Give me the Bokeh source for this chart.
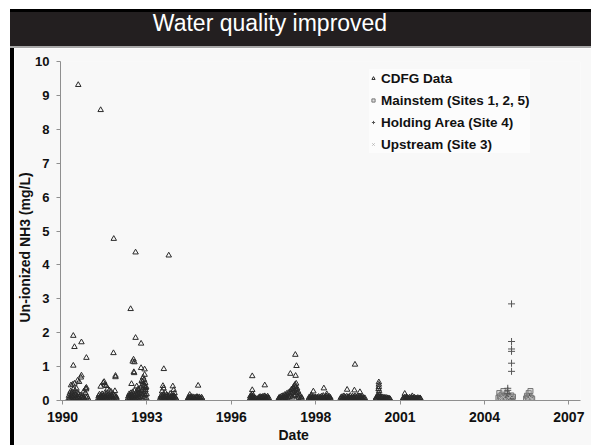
import math
from bokeh.plotting import figure
from bokeh.models import Div, FixedTicker, Legend, LegendItem, Range1d, ColumnDataSource, Title
from bokeh.layouts import column, row
from bokeh.embed import file_html
from bokeh.resources import INLINE

# ---------------- data (decimal year, un-ionized NH3 mg/L) ----------------
title_text = "Water quality improved"
y_label = "Un-ionized NH3 (mg/L)"
x_label = "Date"
series_names = ["CDFG Data", "Mainstem (Sites 1, 2, 5)", "Holding Area (Site 4)", "Upstream (Site 3)"]

x_tick_pos = [1990.25, 1993.15, 1996.05, 1998.95, 2001.85, 2004.75, 2007.65]
x_tick_labels = ["1990", "1993", "1996", "1998", "2001", "2004", "2007"]
y_ticks = [0, 1, 2, 3, 4, 5, 6, 7, 8, 9, 10]

cdfg_1990 = [(1990.46, 0.06), (1990.47, 0.14), (1990.49, 0.04), (1990.50, 0.21), (1990.52, 0.09), (1990.53, 0.27),
             (1990.55, 0.05), (1990.56, 0.17), (1990.58, 0.11), (1990.59, 0.24), (1990.61, 0.07), (1990.62, 0.33),
             (1990.64, 0.13), (1990.65, 0.04), (1990.67, 0.20), (1990.68, 0.29), (1990.70, 0.08), (1990.71, 0.16),
             (1990.73, 0.35), (1990.74, 0.05), (1990.76, 0.23), (1990.77, 0.12), (1990.79, 0.07), (1990.81, 0.18),
             (1990.83, 0.10), (1990.85, 0.04), (1990.87, 0.15), (1990.89, 0.08), (1990.92, 0.12), (1990.95, 0.05),
             (1990.98, 0.09), (1991.01, 0.04), (1991.04, 0.22), (1991.07, 0.07), (1991.10, 0.11), (1991.13, 0.05)]
cdfg_1991 = [(1991.48, 0.07), (1991.49, 0.13), (1991.51, 0.04), (1991.52, 0.18), (1991.54, 0.09), (1991.55, 0.05),
             (1991.57, 0.15), (1991.58, 0.11), (1991.60, 0.06), (1991.61, 0.19), (1991.63, 0.08), (1991.64, 0.13),
             (1991.66, 0.04), (1991.67, 0.16), (1991.69, 0.10), (1991.70, 0.21), (1991.72, 0.06), (1991.73, 0.14),
             (1991.75, 0.09), (1991.76, 0.18), (1991.78, 0.05), (1991.80, 0.12), (1991.82, 0.17), (1991.84, 0.07),
             (1991.86, 0.14), (1991.88, 0.04), (1991.90, 0.11), (1991.92, 0.16), (1991.94, 0.06), (1991.96, 0.13),
             (1991.98, 0.09), (1992.00, 0.18), (1992.02, 0.05), (1992.04, 0.12), (1992.06, 0.15), (1992.08, 0.07),
             (1992.10, 0.10), (1992.12, 0.04)]
cdfg_1992 = [(1992.50, 0.06), (1992.51, 0.12), (1992.53, 0.04), (1992.54, 0.19), (1992.56, 0.08), (1992.57, 0.14),
             (1992.59, 0.05), (1992.60, 0.22), (1992.62, 0.10), (1992.63, 0.16), (1992.65, 0.06), (1992.66, 0.25),
             (1992.68, 0.11), (1992.69, 0.18), (1992.71, 0.07), (1992.72, 0.29), (1992.74, 0.13), (1992.75, 0.05),
             (1992.77, 0.21), (1992.78, 0.09), (1992.80, 0.16), (1992.81, 0.27), (1992.83, 0.06), (1992.84, 0.19),
             (1992.86, 0.12), (1992.87, 0.31), (1992.89, 0.08), (1992.90, 0.23), (1992.92, 0.15), (1992.93, 0.38),
             (1992.95, 0.10), (1992.96, 0.28), (1992.98, 0.18), (1992.99, 0.44), (1993.01, 0.12), (1993.02, 0.33),
             (1993.04, 0.21), (1993.05, 0.48), (1993.07, 0.09), (1993.08, 0.26), (1993.10, 0.16), (1993.11, 0.37),
             (1993.13, 0.07), (1993.14, 0.19)]
cdfg_1993 = [(1993.60, 0.05), (1993.62, 0.11), (1993.63, 0.04), (1993.65, 0.15), (1993.66, 0.08), (1993.68, 0.12),
             (1993.70, 0.05), (1993.71, 0.17), (1993.73, 0.09), (1993.75, 0.13), (1993.76, 0.06), (1993.78, 0.14),
             (1993.80, 0.04), (1993.82, 0.10), (1993.84, 0.16), (1993.86, 0.07), (1993.88, 0.12), (1993.90, 0.05),
             (1993.92, 0.14), (1993.94, 0.09), (1993.96, 0.04), (1993.98, 0.11), (1994.00, 0.15), (1994.02, 0.06),
             (1994.04, 0.12), (1994.06, 0.08), (1994.08, 0.14), (1994.10, 0.05), (1994.12, 0.10), (1994.14, 0.06),
             (1994.16, 0.04)]
cdfg_1994 = [(1994.55, 0.04), (1994.57, 0.08), (1994.59, 0.05), (1994.61, 0.10), (1994.63, 0.06), (1994.65, 0.09),
             (1994.67, 0.04), (1994.69, 0.11), (1994.71, 0.07), (1994.73, 0.05), (1994.75, 0.10), (1994.77, 0.06),
             (1994.79, 0.08), (1994.81, 0.04), (1994.83, 0.09), (1994.85, 0.06), (1994.87, 0.11), (1994.89, 0.05),
             (1994.91, 0.08), (1994.93, 0.04), (1994.95, 0.10), (1994.97, 0.06), (1994.99, 0.07), (1995.01, 0.04),
             (1995.03, 0.09), (1995.05, 0.05)]
cdfg_1996 = [(1996.69, 0.05), (1996.70, 0.12), (1996.72, 0.07), (1996.73, 0.15), (1996.75, 0.04), (1996.76, 0.10),
             (1996.78, 0.06), (1996.79, 0.13), (1996.81, 0.05), (1996.83, 0.09), (1996.85, 0.04), (1996.88, 0.07),
             (1996.92, 0.04), (1996.97, 0.06), (1997.00, 0.09), (1997.02, 0.05), (1997.04, 0.11), (1997.06, 0.07),
             (1997.08, 0.04), (1997.10, 0.10), (1997.12, 0.06), (1997.14, 0.12), (1997.16, 0.05), (1997.18, 0.09),
             (1997.20, 0.13), (1997.22, 0.06), (1997.24, 0.10), (1997.26, 0.04), (1997.28, 0.08), (1997.30, 0.12),
             (1997.32, 0.05), (1997.34, 0.07)]
cdfg_1997 = [(1997.67, 0.04), (1997.69, 0.08), (1997.71, 0.05), (1997.73, 0.10), (1997.75, 0.06), (1997.77, 0.12),
             (1997.79, 0.04), (1997.81, 0.09), (1997.83, 0.14), (1997.85, 0.06), (1997.87, 0.11), (1997.89, 0.17),
             (1997.91, 0.08), (1997.93, 0.13), (1997.95, 0.20), (1997.97, 0.07), (1997.99, 0.15), (1998.01, 0.23),
             (1998.03, 0.10), (1998.05, 0.18), (1998.07, 0.26), (1998.09, 0.12), (1998.11, 0.21), (1998.13, 0.30),
             (1998.15, 0.09), (1998.17, 0.24), (1998.19, 0.34), (1998.21, 0.14), (1998.23, 0.28), (1998.25, 0.40),
             (1998.27, 0.17), (1998.29, 0.31), (1998.31, 0.22), (1998.33, 0.12), (1998.35, 0.26), (1998.37, 0.08),
             (1998.40, 0.15), (1998.43, 0.06), (1998.46, 0.10), (1998.48, 0.04)]
cdfg_1998 = [(1998.71, 0.05), (1998.73, 0.10), (1998.75, 0.04), (1998.77, 0.08), (1998.79, 0.12), (1998.81, 0.06),
             (1998.83, 0.09), (1998.85, 0.04), (1998.87, 0.11), (1998.89, 0.07), (1998.91, 0.05), (1998.93, 0.10),
             (1998.95, 0.06), (1998.97, 0.08), (1998.99, 0.04), (1999.01, 0.09), (1999.03, 0.05), (1999.05, 0.11),
             (1999.07, 0.07), (1999.09, 0.04), (1999.11, 0.10), (1999.13, 0.06), (1999.15, 0.12), (1999.17, 0.05),
             (1999.19, 0.08), (1999.21, 0.14), (1999.23, 0.06), (1999.25, 0.10), (1999.27, 0.04), (1999.29, 0.09),
             (1999.31, 0.13), (1999.33, 0.06), (1999.35, 0.11), (1999.37, 0.05), (1999.39, 0.08), (1999.41, 0.12),
             (1999.43, 0.06), (1999.45, 0.09), (1999.47, 0.04)]
cdfg_1999 = [(1999.80, 0.05), (1999.82, 0.09), (1999.84, 0.04), (1999.86, 0.11), (1999.88, 0.06), (1999.90, 0.08),
             (1999.92, 0.13), (1999.94, 0.05), (1999.96, 0.10), (1999.98, 0.07), (2000.00, 0.04), (2000.02, 0.12),
             (2000.04, 0.06), (2000.06, 0.09), (2000.08, 0.05), (2000.10, 0.11), (2000.12, 0.07), (2000.14, 0.14),
             (2000.16, 0.05), (2000.18, 0.09), (2000.20, 0.06), (2000.22, 0.12), (2000.24, 0.04), (2000.26, 0.10),
             (2000.28, 0.07), (2000.30, 0.13), (2000.32, 0.05), (2000.34, 0.09), (2000.36, 0.06), (2000.38, 0.11),
             (2000.40, 0.04), (2000.42, 0.08), (2000.44, 0.12), (2000.46, 0.06), (2000.48, 0.10), (2000.50, 0.05),
             (2000.52, 0.09), (2000.54, 0.07), (2000.56, 0.11), (2000.58, 0.04), (2000.60, 0.08), (2000.62, 0.05),
             (2000.64, 0.07)]
cdfg_2001 = [(2001.01, 0.04), (2001.03, 0.09), (2001.05, 0.06), (2001.07, 0.12), (2001.09, 0.05), (2001.11, 0.10),
             (2001.13, 0.15), (2001.15, 0.07), (2001.17, 0.11), (2001.19, 0.05), (2001.21, 0.09), (2001.23, 0.06),
             (2001.25, 0.10), (2001.27, 0.04), (2001.29, 0.08), (2001.31, 0.05), (2001.33, 0.09), (2001.35, 0.06),
             (2001.37, 0.04), (2001.39, 0.08), (2001.41, 0.05), (2001.43, 0.07), (2001.45, 0.04), (2001.47, 0.06),
             (2001.49, 0.05), (2001.51, 0.04)]
cdfg_2002 = [(2001.94, 0.04), (2001.96, 0.07), (2001.98, 0.05), (2002.00, 0.09), (2002.02, 0.04), (2002.04, 0.06),
             (2002.06, 0.10), (2002.08, 0.05), (2002.10, 0.08), (2002.12, 0.04), (2002.14, 0.07), (2002.16, 0.05),
             (2002.18, 0.09), (2002.20, 0.04), (2002.22, 0.06), (2002.24, 0.08), (2002.26, 0.05), (2002.28, 0.07),
             (2002.30, 0.04), (2002.32, 0.06), (2002.34, 0.09), (2002.36, 0.05), (2002.38, 0.07), (2002.40, 0.04),
             (2002.42, 0.06), (2002.44, 0.05), (2002.46, 0.08), (2002.48, 0.04), (2002.50, 0.06), (2002.52, 0.05),
             (2002.54, 0.07), (2002.56, 0.04)]
cdfg_peaks = [(1990.79, 9.31), (1991.56, 8.57), (1992.01, 4.77), (1992.76, 4.37), (1993.90, 4.28), (1992.59, 2.70),
              (1990.62, 1.91), (1990.66, 1.58), (1990.90, 1.72), (1990.62, 1.03), (1991.07, 1.26), (1990.90, 0.74),
              (1990.88, 0.68), (1990.77, 0.59), (1990.82, 0.55), (1990.66, 0.50), (1990.60, 0.47), (1990.54, 0.45),
              (1991.07, 0.38), (1991.06, 0.33), (1991.05, 0.36), (1990.98, 0.27),
              (1992.00, 1.40), (1992.07, 0.73), (1992.07, 0.69), (1991.56, 0.41), (1991.65, 0.52), (1991.68, 0.55),
              (1991.70, 0.47), (1991.75, 0.43), (1991.80, 0.35), (1991.86, 0.30), (1991.92, 0.26), (1992.05, 0.28),
              (1992.76, 1.85), (1992.95, 1.68), (1992.66, 1.15), (1992.69, 1.21), (1992.72, 1.13), (1992.95, 0.96),
              (1993.07, 0.92), (1992.70, 0.84), (1992.71, 0.81), (1993.07, 0.76), (1992.62, 0.49), (1993.02, 0.68),
              (1993.05, 0.61), (1993.00, 0.55), (1993.09, 0.52), (1992.97, 0.58), (1993.06, 0.43), (1993.12, 0.40),
              (1992.85, 0.34), (1992.80, 0.42), (1993.10, 0.31),
              (1993.73, 0.93), (1993.70, 0.43), (1993.72, 0.36), (1994.04, 0.42), (1994.07, 0.31), (1993.67, 0.27),
              (1993.78, 0.23), (1993.95, 0.20), (1994.10, 0.22),
              (1994.91, 0.44), (1994.62, 0.17),
              (1996.77, 0.72), (1996.77, 0.31), (1997.20, 0.45), (1996.78, 0.19),
              (1998.25, 1.35), (1998.29, 1.02), (1998.08, 0.79), (1998.26, 0.73), (1998.28, 0.50), (1998.22, 0.44),
              (1998.18, 0.38), (1998.31, 0.36), (1998.12, 0.33), (1998.24, 0.47),
              (1998.87, 0.27), (1999.23, 0.36), (1998.80, 0.16), (1999.33, 0.19),
              (2000.30, 1.06), (2000.03, 0.32), (2000.28, 0.30), (2000.47, 0.25),
              (2001.12, 0.54), (2001.12, 0.47), (2001.12, 0.40), (2001.11, 0.34), (2001.13, 0.28), (2001.12, 0.22),
              (2002.01, 0.20), (2002.27, 0.13)]

mainstem = [(2005.23, 0.08), (2005.26, 0.22), (2005.28, 0.12), (2005.31, 0.05), (2005.34, 0.17), (2005.37, 0.09),
            (2005.40, 0.28), (2005.43, 0.06), (2005.46, 0.14), (2005.49, 0.10), (2005.52, 0.20), (2005.55, 0.07),
            (2005.58, 0.12), (2005.61, 0.05), (2005.64, 0.09), (2005.67, 0.15), (2005.70, 0.06), (2005.73, 0.11),
            (2006.18, 0.06), (2006.21, 0.14), (2006.24, 0.09), (2006.27, 0.22), (2006.30, 0.12), (2006.33, 0.28),
            (2006.36, 0.08), (2006.39, 0.05)]
holding = [(2005.68, 2.85), (2005.68, 1.74), (2005.68, 1.52), (2005.68, 1.45), (2005.68, 1.10), (2005.68, 0.86),
           (2005.55, 0.36), (2005.55, 0.30), (2005.55, 0.20), (2005.60, 0.12), (2005.50, 0.08), (2005.65, 0.05),
           (2006.30, 0.10)]
upstream = [(2005.30, 0.06), (2005.40, 0.10), (2005.47, 0.04), (2005.58, 0.07), (2005.63, 0.12),
            (2006.25, 0.05), (2006.34, 0.08)]

cdfg = (cdfg_1990 + cdfg_1991 + cdfg_1992 + cdfg_1993 + cdfg_1994 + cdfg_1996 + cdfg_1997 +
        cdfg_1998 + cdfg_1999 + cdfg_2001 + cdfg_2002 + cdfg_peaks)


def src(pairs):
    return ColumnDataSource(dict(x=[a for a, b in pairs], y=[b for a, b in pairs]))


FONT = "Liberation Sans"
BG = "#f8f8f8"
AXIS = "#8f8f8f"
INK = "#111111"

p = figure(width=577, height=397, title=None, output_backend="svg", toolbar_location=None,
           x_range=Range1d(1990.18, 2008.05), y_range=Range1d(0, 10),
           min_border_left=46, min_border_right=11, min_border_top=13, min_border_bottom=45,
           background_fill_color=BG, border_fill_color=BG, outline_line_color=None, margin=0)
p.grid.visible = False

r_cdfg = p.scatter("x", "y", source=src(cdfg), marker="triangle", size=5.5,
                   line_color="#2a2a2a", line_width=1, fill_color=None)
r_main = p.scatter("x", "y", source=src(mainstem), marker="square", size=5,
                   line_color="#777777", line_width=1, fill_color="#b0b0b0", fill_alpha=0.4)
r_hold = p.scatter("x", "y", source=src(holding), marker="cross", size=7,
                   line_color="#555555", line_width=1)
r_up = p.scatter("x", "y", source=src(upstream), marker="x", size=5,
                 line_color="#b5b5b5", line_width=1)

for ax in (p.xaxis[0], p.yaxis[0]):
    ax.axis_line_color = AXIS
    ax.major_tick_line_color = AXIS
    ax.minor_tick_line_color = None
    ax.major_tick_in = 0
    ax.major_tick_out = 4
    ax.major_label_text_font = FONT
    ax.major_label_text_font_style = "bold"
    ax.major_label_text_color = INK

p.yaxis.ticker = FixedTicker(ticks=y_ticks)
p.yaxis.major_label_text_font_size = "13px"
p.yaxis.major_label_standoff = 7

p.xaxis.ticker = FixedTicker(ticks=x_tick_pos, minor_ticks=[])
p.xaxis.major_label_overrides = {pos: lab for pos, lab in zip(x_tick_pos, x_tick_labels)}
p.xaxis.major_label_text_font_size = "14px"
p.xaxis.major_label_standoff = 7

# axis titles as side-panel titles so they can be offset like the original
p.add_layout(Title(text=y_label, align="left", offset=78, standoff=0, text_font=FONT,
                   text_font_style="bold", text_font_size="14px", text_color=INK), "left")
p.add_layout(Title(text=x_label, align="left", offset=218, standoff=0, text_font=FONT,
                   text_font_style="bold", text_font_size="14px", text_color=INK), "below")

legend = Legend(items=[LegendItem(label=series_names[0], renderers=[r_cdfg]),
                       LegendItem(label=series_names[1], renderers=[r_main]),
                       LegendItem(label=series_names[2], renderers=[r_hold]),
                       LegendItem(label=series_names[3], renderers=[r_up])],
                location=(309, 247), label_text_font=FONT, label_text_font_style="bold",
                label_text_font_size="13.5px", label_text_color=INK,
                glyph_width=8, glyph_height=18, label_height=18, spacing=4, padding=5, margin=0,
                label_standoff=4, border_line_color=None,
                background_fill_color="#ffffff", background_fill_alpha=0.5)
p.add_layout(legend)

title_div = Div(
    text=('<div style="width:520px;text-align:center;line-height:25px;font-size:23px;'
          'color:#ffffff;font-family:\'Liberation Sans\',Arial,sans-serif;padding-top:2px;">'
          + title_text + '</div>'),
    width=581, height=39, margin=0,
    styles={"background-color": "#231f20", "box-shadow": "inset 0 3px #000, inset 0 -2px #a8a8a8"})
strip = Div(text="", width=4, height=397, margin=0, styles={"background-color": "#000000"})

layout = column(title_div, row(strip, p, spacing=0, margin=0), spacing=0, margin=(9, 0, 0, 10))

open("out.html", "w").write(file_html(layout, INLINE))
